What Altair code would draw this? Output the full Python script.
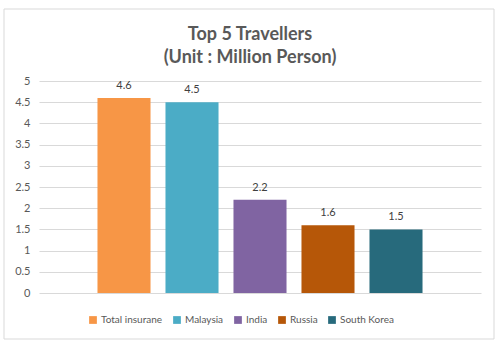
import altair as alt
import pandas as pd

series = ["Total insurane", "Malaysia", "India", "Russia", "South Korea"]
values = [4.6, 4.5, 2.2, 1.6, 1.5]
colors = ["#F79646", "#4BACC6", "#8064A2", "#B65708", "#276A7C"]
y_ticks = [0, 0.5, 1, 1.5, 2, 2.5, 3, 3.5, 4, 4.5, 5]

df = pd.DataFrame({"series": series, "value": values})

FONT = "Lato"
W, H = 442, 212

xs = alt.X("series:N", sort=series,
           scale=alt.Scale(paddingInner=0.22, paddingOuter=0.86),
           axis=alt.Axis(title=None, labels=False, ticks=False, domain=False, grid=False))
ys = alt.Y("value:Q", scale=alt.Scale(domain=[0, 5], nice=False),
           axis=alt.Axis(title=None, values=y_ticks, tickCount=11, ticks=False, domain=False,
                         gridColor="#D9D9D9", labelColor="#595959", labelFont=FONT,
                         labelFontSize=11, labelPadding=9,
                         labelExpr="datum.value"))

border = alt.Chart(pd.DataFrame({"a": [0]})).mark_rect(
    fill="transparent", stroke="#D9D9D9", strokeWidth=1
).encode(x=alt.value(-35), x2=alt.value(455), y=alt.value(-72), y2=alt.value(258))

bars = alt.Chart(df).mark_bar().encode(
    x=xs, y=ys,
    color=alt.Color("series:N", sort=series,
                    scale=alt.Scale(domain=series, range=colors),
                    legend=alt.Legend(title=None, orient="none", direction="horizontal",
                                      legendX=49, legendY=234, columns=5,
                                      symbolType="square", symbolSize=60,
                                      symbolStrokeWidth=0, labelFont=FONT,
                                      labelFontSize=10, labelColor="#595959",
                                      columnPadding=9, symbolOffset=0, labelOffset=3)),
)

labels = alt.Chart(df).mark_text(dy=-12, font=FONT, fontSize=11, color="#404040").encode(
    x=alt.X("series:N", sort=series), y="value:Q", text=alt.Text("value:Q", format=".1f")
)

chart = alt.layer(border, bars, labels).properties(
    width=W, height=H,
    padding={"left": 39, "top": 81, "right": 19, "bottom": 57},
    autosize=alt.AutoSizeParams(type="none"),
    title=alt.TitleParams(["Top 5 Travellers", "(Unit : Million Person)"],
                          font=FONT, fontSize=18, fontWeight="bold", color="#595959",
                          anchor="middle", dx=-10, offset=-58, lineHeight=23),
).configure_view(stroke=None)

chart.save("out.html", embed_options={"renderer": "svg", "actions": False})
